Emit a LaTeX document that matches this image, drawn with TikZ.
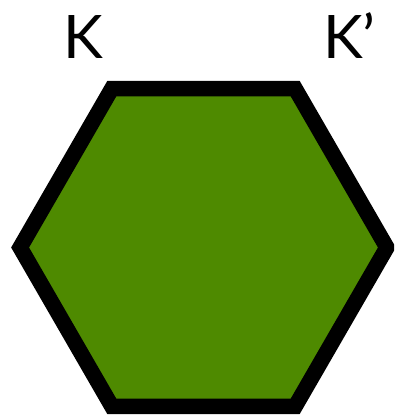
\documentclass[tikz,border=0pt]{standalone}
\usepackage{fontspec}
\setmainfont{Lato}
\usetikzlibrary{calc}
\definecolor{hexgreen}{RGB}{78,138,0}
\begin{document}
\begin{tikzpicture}[x=1pt,y=1pt,
  hexagon/.style={draw=black,fill=hexgreen,line width=15.5pt,line join=miter},
  klabel/.style={anchor=base west,inner sep=0pt,font=\fontsize{60}{60}\selectfont}]
\useasboundingbox (0,0) rectangle (394,415);
\begin{scope}
\clip (0,0) rectangle (394,415);
\coordinate (c) at (203.5,167.5);
\draw[hexagon] ($(c)+(0:183.4)$) -- ($(c)+(60:183.4)$) -- ($(c)+(120:183.4)$) -- ($(c)+(180:183.4)$) -- ($(c)+(240:183.4)$) -- ($(c)+(300:183.4)$) -- cycle;
\end{scope}
\node[klabel] (k) at (63,356.7) {K};
\node[klabel] (kp) at (323,356.7) {K’};
\end{tikzpicture}
\end{document}
